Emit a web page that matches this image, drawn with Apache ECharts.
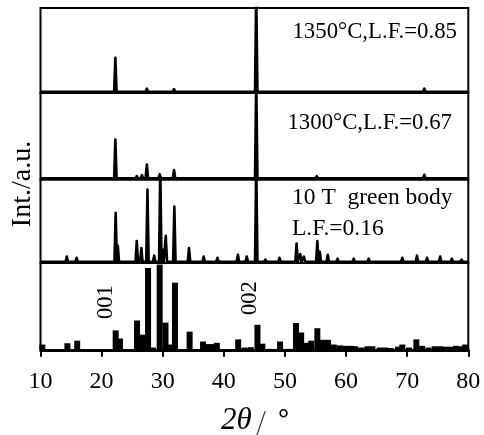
<!DOCTYPE html>
<html>
<head>
<meta charset="utf-8">
<script src="https://cdn.jsdelivr.net/npm/echarts@6/dist/echarts.min.js"></script>
<style>
  html, body { margin: 0; padding: 0; background: #fff; }
  #chart { width: 484px; height: 435px; }
</style>
</head>
<body>
<div id="chart"></div>
<script>
// XRD patterns, peaks as [2θ (deg), intensity (a.u.)]
const xTicks = [10, 20, 30, 40, 50, 60, 70, 80];

const peaks1350 = [
  [22.25, 39.5], [27.4, 3.5], [31.85, 3], [40.7, 2], [45.3, 115], [72.8, 3.5], [75.1, 2]
];

const peaks1300 = [
  [22.25, 45], [25.75, 2.5], [26.6, 3.5], [27.4, 16], [29.5, 4.5], [30.0, 2],
  [31.85, 9.5], [34.3, 2], [40.7, 1.5], [45.3, 115], [55.2, 2.5], [72.8, 4], [75.1, 2]
];

const peaksGreen = [
  [14.3, 6], [15.9, 4.5], [22.3, 57], [22.65, 18.5], [25.75, 24], [26.5, 16],
  [27.5, 84], [28.6, 7], [29.6, 110], [29.95, 14], [30.5, 30], [31.9, 64],
  [34.3, 16], [36.7, 6], [38.95, 4.5], [42.3, 8], [43.75, 6], [45.3, 115],
  [46.8, 2.5], [49.1, 4.5], [51.9, 21], [52.5, 9], [53.1, 6], [55.3, 24], [55.7, 11.5],
  [57.0, 8], [58.6, 3.5], [61.25, 3.5], [63.7, 3.5], [69.2, 4.5], [71.6, 7],
  [73.25, 4.5], [75.4, 6], [77.3, 3.5], [78.9, 2.5]
];

// reference powder pattern (stick intensities)
const refPos = [
  10.3, 14.4, 16.0, 22.3, 23.0, 25.8, 26.7, 27.6, 28.4, 29.5, 30.45, 31.1, 32.0,
  34.4, 36.6, 37.4, 38.1, 38.85, 42.35, 43.4, 44.4, 45.5, 46.3, 47.6, 49.2, 50.6,
  51.8, 52.65, 53.5, 54.3, 55.3, 56.2, 57.05, 58.0, 59.0, 59.9, 60.8, 61.5, 62.5,
  63.5, 64.3, 65.5, 66.4, 67.3, 68.5, 69.2, 70.3, 71.5, 72.45, 73.5, 74.5, 75.4,
  76.3, 77.1, 78.0, 78.9, 79.5
];
const refInt = [
  6, 7.5, 10.5, 22.5, 13, 34, 17.5, 95, 2.5, 99, 31.5, 6, 78,
  21, 9.5, 6.5, 6.5, 8, 12, 2.5, 3, 29, 7, 1, 9.5, 1,
  31, 20, 8, 10.5, 25, 11.5, 11.5, 6, 5, 4.5, 4.5, 4, 2.5,
  4, 4, 2.5, 2.5, 2, 3.5, 6, 2.5, 12, 4.5, 2.5, 4, 4,
  3.5, 3.5, 4.5, 4, 6
];

const panelLabels = ['1350\u00B0C,L.F.=0.85', '1300\u00B0C,L.F.=0.67', '10 T  green body', 'L.F.=0.16'];
const hklLabels = ['001', '002'];

const SERIF = '"Liberation Serif", "Times New Roman", serif';
const CJK = '"Noto Sans CJK SC", sans-serif';

// each diffraction peak is drawn as a narrow spike on a flat baseline
function spikes(peaks) {
  const hw = 0.2;
  const pts = [[10, 0]];
  peaks.slice().sort((a, b) => a[0] - b[0]).forEach(([x, h]) => {
    pts.push([x - hw, 0], [x, h], [x + hw, 0]);
  });
  pts.push([80, 0]);
  return pts;
}

// panel frames (top, height) in px; 100 a.u. spans 86 px in every panel
const panels = [[8, 85], [93, 86.5], [179.5, 83.5], [263, 88]];
const pxPerUnit = 0.86;

const grids = panels.map(([top, h]) => ({
  left: 40.5, right: 15.7, top: top, height: h,
  show: true, borderColor: '#000', borderWidth: 2, backgroundColor: 'transparent'
}));

const xAxes = panels.map((p, i) => ({
  type: 'value', gridIndex: i, min: xTicks[0], max: xTicks[xTicks.length - 1], interval: 10,
  show: i === 3,
  axisLine: { show: true, lineStyle: { color: '#000', width: 2 } },
  axisTick: { show: true, inside: false, length: 7, lineStyle: { color: '#000', width: 2 } },
  axisLabel: { show: true, color: '#000', fontFamily: SERIF, fontSize: 24, margin: 19 },
  splitLine: { show: false }
}));

const yAxes = panels.map(([top, h], i) => ({
  type: 'value', gridIndex: i, min: -1.5, max: h / pxPerUnit - 1.5, show: false, splitLine: { show: false }
}));

const lineStyle = { color: '#000', width: 2.6, join: 'round' };
const lines = [peaks1350, peaks1300, peaksGreen].map((pk, i) => ({
  type: 'line', xAxisIndex: i, yAxisIndex: i, data: spikes(pk), showSymbol: false,
  symbol: 'none', lineStyle: lineStyle, silent: true, animation: false, clip: true
}));

const bars = {
  type: 'bar', xAxisIndex: 3, yAxisIndex: 3,
  data: refPos.map((x, k) => [x, refInt[k]]),
  barWidth: 6, itemStyle: { color: '#000' }, silent: true, animation: false
};

const chart = echarts.init(document.getElementById('chart'), null, { renderer: 'canvas' });

function textEl(text, x, y, opts) {
  return {
    type: 'text', x: x, y: y, silent: true,
    style: Object.assign({ text: text, fill: '#000', font: '23.5px ' + SERIF, align: 'left', verticalAlign: 'middle' }, opts || {})
  };
}

chart.setOption({
  animation: false,
  backgroundColor: '#fff',
  grid: grids,
  xAxis: xAxes,
  yAxis: yAxes,
  series: lines.concat([bars]),
  graphic: [
    textEl(panelLabels[0], 457, 32, { align: 'right', font: '22.8px ' + SERIF }),
    textEl(panelLabels[1], 452, 123, { align: 'right', font: '22.8px ' + SERIF }),
    textEl(panelLabels[2], 292, 198),
    textEl(panelLabels[3], 292, 229),
    Object.assign(textEl('Int./a.u.', 23, 184, { align: 'center', font: '28px ' + SERIF }), { rotation: Math.PI / 2 }),
    Object.assign(textEl(hklLabels[0], 106, 302, { align: 'center', font: '22.5px ' + SERIF }), { rotation: Math.PI / 2 }),
    Object.assign(textEl(hklLabels[1], 250.5, 298, { align: 'center', font: '22.5px ' + SERIF }), { rotation: Math.PI / 2 }),
    {
      type: 'text', x: 255, y: 421, silent: true,
      style: {
        text: '{i|2\u03B8}{s|/}{n|\u00B0}', align: 'center', verticalAlign: 'middle', fill: '#000',
        rich: {
          i: { font: 'italic 31px ' + SERIF, fill: '#000' },
          s: { font: '300 26px ' + CJK, fill: '#333', padding: [0, 12, 0, 4] },
          n: { font: '30px ' + CJK, fill: '#000' }
        }
      }
    }
  ]
});
</script>
</body>
</html>
